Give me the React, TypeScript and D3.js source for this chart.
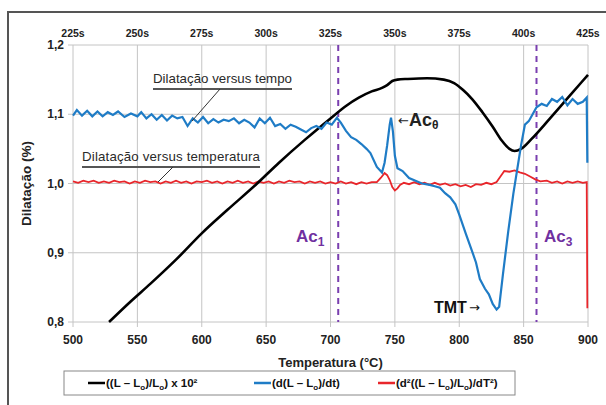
import React from 'react';
import * as d3 from 'd3';

// temperature ticks (bottom) and time ticks (top)
const tempTicks = [500, 550, 600, 650, 700, 750, 800, 850, 900];
const timeTicks = ['225s', '250s', '275s', '300s', '325s', '350s', '375s', '400s', '425s'];
const dilTicks = [0.8, 0.9, 1.0, 1.1, 1.2];

// ((L - Lo)/Lo) x 10^2
const blackSeries: [number, number][] = [
  [528, 0.8], [545, 0.83], [560, 0.855], [580, 0.89], [600, 0.928], [620, 0.962], [643, 1.0],
  [660, 1.03], [680, 1.063], [700, 1.094], [712, 1.112], [722, 1.124], [732, 1.133],
  [740, 1.138], [744, 1.142], [748, 1.148], [752, 1.15], [760, 1.151], [775, 1.152],
  [788, 1.15], [796, 1.145], [803, 1.135], [810, 1.122], [818, 1.103], [826, 1.082],
  [833, 1.062], [839, 1.05], [843, 1.047], [848, 1.05], [856, 1.064], [870, 1.093],
  [885, 1.125], [900, 1.157],
];

// d(L - Lo)/dt
const blueSeries: [number, number][] = [
  [500, 1.098], [503, 1.106], [507, 1.098], [511, 1.105], [515, 1.097], [519, 1.104],
  [523, 1.097], [527, 1.103], [531, 1.099], [535, 1.104], [540, 1.096], [545, 1.101],
  [550, 1.097], [553, 1.103], [557, 1.094], [561, 1.1], [565, 1.092], [569, 1.099],
  [573, 1.091], [577, 1.098], [581, 1.094], [585, 1.096], [589, 1.083], [593, 1.094],
  [597, 1.088], [601, 1.096], [605, 1.087], [609, 1.093], [613, 1.088], [617, 1.092],
  [621, 1.09], [625, 1.094], [629, 1.087], [633, 1.092], [637, 1.088], [641, 1.081],
  [645, 1.094], [649, 1.087], [653, 1.095], [657, 1.083], [661, 1.086], [665, 1.079],
  [669, 1.085], [673, 1.082], [677, 1.078], [681, 1.074], [685, 1.08], [689, 1.083],
  [693, 1.079], [697, 1.088], [701, 1.085], [705, 1.095], [708, 1.088], [712, 1.076],
  [716, 1.067], [720, 1.063], [724, 1.057], [728, 1.05], [731, 1.044], [736, 1.024],
  [740, 1.016], [742, 1.03], [744, 1.055], [746, 1.085], [747, 1.095], [748.5, 1.075],
  [750, 1.04], [752, 1.022], [756, 1.018], [761, 1.008], [766, 1.004], [771, 1.0],
  [777, 0.998], [781, 0.996], [785, 0.994], [789, 0.986], [793, 0.98], [797, 0.97],
  [800, 0.955], [805, 0.928], [810, 0.902], [813, 0.886], [816, 0.862], [820, 0.848],
  [823, 0.84], [826, 0.826], [829, 0.818], [831, 0.822], [834, 0.87], [838, 0.93],
  [842, 0.985], [845, 1.02], [848, 1.055], [851, 1.085], [854, 1.09], [857, 1.1],
  [860, 1.11], [864, 1.115], [868, 1.112], [872, 1.122], [876, 1.118], [880, 1.125],
  [884, 1.113], [888, 1.122], [892, 1.115], [896, 1.118], [899, 1.124], [899.5, 1.03],
];

// d2((L - Lo)/Lo)/dT2
const redSeries: [number, number][] = [
  [500, 1.003], [504, 1.001], [508, 1.004], [512, 1.002], [516, 1.004], [520, 1.001],
  [524, 1.003], [528, 1.001], [532, 1.004], [536, 1.002], [540, 1.003], [544, 1.0],
  [548, 1.003], [552, 1.001], [556, 1.004], [560, 1.002], [564, 1.003], [568, 1.0],
  [572, 1.003], [576, 1.001], [580, 1.004], [584, 1.001], [588, 1.003], [592, 1.0],
  [596, 1.003], [600, 1.002], [604, 1.004], [608, 1.001], [612, 1.003], [616, 1.0],
  [620, 1.003], [624, 1.001], [628, 1.004], [632, 1.001], [636, 1.003], [640, 1.0],
  [644, 1.003], [648, 1.001], [652, 1.003], [656, 1.0], [660, 1.003], [664, 1.001],
  [668, 1.004], [672, 1.002], [676, 1.003], [680, 1.0], [684, 1.003], [688, 1.001],
  [692, 1.003], [696, 1.0], [700, 1.002], [704, 1.0], [708, 1.003], [712, 1.0],
  [716, 1.002], [720, 0.999], [724, 1.002], [728, 1.0], [732, 1.002], [736, 1.002],
  [739, 1.008], [742, 1.015], [744, 1.012], [746, 1.005], [748, 0.995], [750, 0.99],
  [752, 0.993], [754, 0.998], [757, 1.001], [761, 0.999], [765, 1.002], [769, 0.999],
  [773, 1.001], [777, 0.998], [781, 1.001], [785, 0.998], [789, 1.0], [793, 0.997],
  [797, 0.999], [801, 0.996], [805, 0.998], [809, 0.995], [813, 0.999], [817, 0.998],
  [821, 1.001], [825, 0.999], [829, 1.002], [832, 1.01], [835, 1.018], [839, 1.017],
  [843, 1.019], [847, 1.016], [851, 1.014], [855, 1.01], [859, 1.006], [863, 1.003],
  [868, 1.004], [872, 1.001], [876, 1.003], [880, 1.0], [884, 1.003], [888, 1.001],
  [892, 1.003], [896, 1.001], [899, 1.002], [899.5, 0.82],
];

// transformation temperatures
const ac1 = 706;
const ac3 = 860;

const W = 606;
const H = 405;
const margin = { top: 45, right: 18, bottom: 83, left: 73 };
const FONT = '"Liberation Sans", Arial, sans-serif';

const App = () => {
  const x = d3.scaleLinear().domain([500, 900]).range([margin.left, W - margin.right]);
  const y = d3.scaleLinear().domain([0.8, 1.2]).range([H - margin.bottom, margin.top]);
  const xTime = d3.scalePoint<string>().domain(timeTicks).range([margin.left, W - margin.right]);

  const line = d3.line<[number, number]>().x(d => x(d[0])).y(d => y(d[1]));
  const smooth = d3.line<[number, number]>().x(d => x(d[0])).y(d => y(d[1])).curve(d3.curveMonotoneX);

  const x0 = margin.left;
  const x1 = W - margin.right;
  const y0 = H - margin.bottom;
  const y1 = margin.top;
  const sub = (s: string) => <tspan fontSize="8" dy="3">{s}</tspan>;

  return (
    <svg width={W} height={H} style={{ position: 'absolute', left: 0, top: 0, background: '#fff' }} fontFamily={FONT}>
      <rect x={8} y={12} width={W + 20} height={H + 20} fill="#fff" stroke="#555" strokeWidth={2} />

      {/* grid */}
      {tempTicks.map(t => (
        <line key={'gx' + t} x1={x(t)} x2={x(t)} y1={y1} y2={y0 + 5} stroke="#c4c4c4" strokeWidth={1} />
      ))}
      {dilTicks.map(v => (
        <line key={'gy' + v} x1={x0 - 5} x2={x1} y1={y(v)} y2={y(v)} stroke="#c4c4c4" strokeWidth={1} />
      ))}

      {/* tick labels */}
      {dilTicks.map(v => (
        <text key={'ty' + v} x={x0 - 9} y={y(v) + 4} textAnchor="end" fontSize="12" fontWeight="bold" fill="#222">
          {d3.format('.1f')(v).replace('.', ',')}
        </text>
      ))}
      {tempTicks.map(t => (
        <text key={'tx' + t} x={x(t)} y={y0 + 22} textAnchor="middle" fontSize="12" fontWeight="bold" fill="#222">
          {t}
        </text>
      ))}
      {timeTicks.map(s => (
        <text key={'tt' + s} x={xTime(s)} y={y1 - 8} textAnchor="middle" fontSize="10.5" fontWeight="bold" fill="#222">
          {s}
        </text>
      ))}

      {/* axis titles */}
      <text x={(x0 + x1) / 2} y={y0 + 45} textAnchor="middle" fontSize="13" fontWeight="bold" fill="#222">
        Temperatura (°C)
      </text>
      <text transform={`translate(31, ${(y0 + y1) / 2}) rotate(-90)`} textAnchor="middle" fontSize="13.5" fontWeight="bold" fill="#222">
        Dilatação (%)
      </text>

      {/* Ac1 / Ac3 */}
      {[ac1, ac3].map(t => (
        <line key={'ac' + t} x1={x(t)} x2={x(t)} y1={y1} y2={y0} stroke="#7a3fb0" strokeWidth={2} strokeDasharray="6,5" />
      ))}

      {/* series */}
      <path d={line(redSeries) || ''} fill="none" stroke="#e8262b" strokeWidth={1.8} />
      <path d={smooth(blackSeries) || ''} fill="none" stroke="#000" strokeWidth={2.6} />
      <path d={line(blueSeries) || ''} fill="none" stroke="#1f7cc6" strokeWidth={2.2} />

      {/* annotations */}
      <text x={153} y={83} fontSize="13.3" fill="#2a2a2a" textLength={139}>Dilatação versus tempo</text>
      <line x1={153} x2={292} y1={89} y2={89} stroke="#555" strokeWidth={2} />
      <line x1={220} x2={192} y1={89} y2={121} stroke="#333" strokeWidth={1} />
      <text x={82} y={161} fontSize="13.3" fill="#2a2a2a" textLength={178}>Dilatação versus temperatura</text>
      <line x1={82} x2={260} y1={167} y2={167} stroke="#555" strokeWidth={2} />
      <line x1={173} x2={158} y1={167} y2={182} stroke="#333" strokeWidth={1} />

      <text x={398} y={126} fontSize="18" fontWeight="bold" fill="#222">
        <tspan fontFamily="DejaVu Sans" fontWeight="normal" fontSize="13" dy="-1">←</tspan>
        <tspan dy="1">Ac</tspan><tspan fontSize="12" dy="3">θ</tspan>
      </text>
      <text x={296} y={242} fontSize="17" fontWeight="bold" fill="#7030a0">
        Ac<tspan fontSize="12" dy="4">1</tspan>
      </text>
      <text x={544} y={242} fontSize="17" fontWeight="bold" fill="#7030a0">
        Ac<tspan fontSize="12" dy="4">3</tspan>
      </text>
      <text x={434} y={313} fontSize="16" fontWeight="bold" fill="#111">
        TMT<tspan fontFamily="DejaVu Sans" fontWeight="normal" fontSize="13" dx="2" dy="-1">→</tspan>
      </text>

      {/* legend */}
      <rect x={64} y={371} width={451} height={24} fill="#fff" stroke="#888" strokeWidth={1} />
      <line x1={88} x2={105} y1={383} y2={383} stroke="#000" strokeWidth={2.5} />
      <text x={106} y={387} fontSize="11.5" fontWeight="bold" fill="#111">
        ((L – L{sub('o')}<tspan dy="-3">)/L</tspan>{sub('o')}<tspan dy="-3">) x 10²</tspan>
      </text>
      <line x1={254} x2={271} y1={383} y2={383} stroke="#1f7cc6" strokeWidth={2.5} />
      <text x={272} y={387} fontSize="11.5" fontWeight="bold" fill="#111">
        (d(L – L{sub('o')}<tspan dy="-3">)/dt)</tspan>
      </text>
      <line x1={378} x2={395} y1={383} y2={383} stroke="#e8262b" strokeWidth={2.5} />
      <text x={396} y={387} fontSize="11.5" fontWeight="bold" fill="#111">
        (d²((L – L{sub('o')}<tspan dy="-3">)/L</tspan>{sub('o')}<tspan dy="-3">)/dT²)</tspan>
      </text>
    </svg>
  );
};

export default App;
